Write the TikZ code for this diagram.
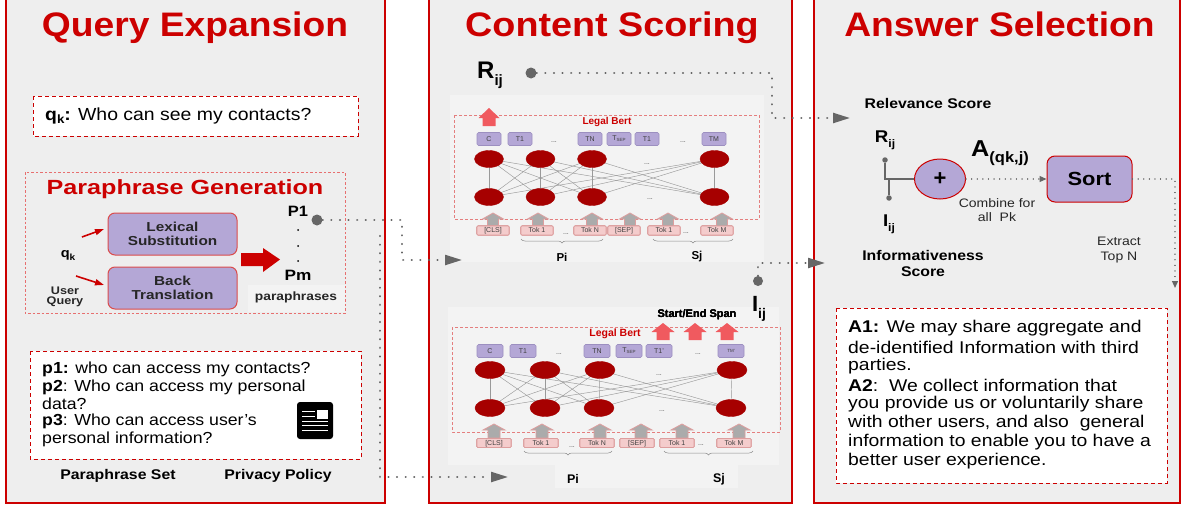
\documentclass[tikz,border=0pt]{standalone}
\usepackage{graphicx}
\usepackage{fontspec}
\setmainfont{Liberation Sans}
\usetikzlibrary{arrows.meta,shapes.geometric,decorations.pathreplacing,calc}
\pgfdeclarelayer{bg}\pgfdeclarelayer{mid}\pgfsetlayers{bg,mid,main}
\definecolor{panelred}{HTML}{CC0000}
\definecolor{panelgray}{HTML}{EEEEEE}
\definecolor{inner}{HTML}{F3F3F3}
\definecolor{lilac}{HTML}{B4A7D6}
\definecolor{lilacb}{HTML}{9C8FC0}
\definecolor{darkred}{HTML}{A60000}
\definecolor{tok}{HTML}{F4CCCC}
\definecolor{tokb}{HTML}{DD9E9E}
\definecolor{coral}{HTML}{F05A5F}
\definecolor{dotc}{HTML}{666666}
\newcommand{\fs}[1]{\fontsize{#1}{#1}\selectfont}
\newcommand{\lowsub}[3]{\raisebox{#1}{\fs{#2}#3}}
\newcommand{\W}[2][1.12]{\scalebox{#1}[1]{#2}}
% up arrow: x, tip y, base y, head half width, shaft half width, head height, style
\newcommand{\uparr}[7]{\path[#7] (#1,#2) -- (#1+#4,#2+#6) -- (#1+#5,#2+#6) -- (#1+#5,#3) -- (#1-#5,#3) -- (#1-#5,#2+#6) -- (#1-#4,#2+#6) -- cycle;}
\tikzset{
  panel/.style={draw=panelred,fill=panelgray,line width=1.2pt},
  dashbox/.style={draw=panelred,fill=white,line width=.9pt,dash pattern=on 4pt off 3pt},
  faint/.style={draw=tokb!80!red,line width=.7pt,dash pattern=on 3pt off 2pt},
  title/.style={text=panelred,font=\bfseries\fs{34},inner sep=0pt,anchor=base},
  lab/.style={inner sep=0pt,text=black},
  tb/.style={draw=lilacb,fill=lilac,rounded corners=1.5pt,line width=.6pt,minimum height=13pt,inner sep=0pt,font=\fs{7},text=black!75},
  tk/.style={draw=tokb,fill=tok,rounded corners=1pt,line width=.6pt,minimum height=9pt,text height=5pt,text depth=1pt,inner sep=0pt,font=\fs{7},text=black!75},
  neuron/.style={ellipse,fill=darkred,draw=darkred,inner sep=0pt},
  garrow/.style={draw=tokb,fill=black!33,line width=.8pt},
  rarrow/.style={fill=coral},
  dotline/.style={draw=dotc,line width=2.2pt,line cap=round,dash pattern=on .1pt off 8.5pt},
  finedot/.style={draw=dotc,line width=1.2pt,line cap=round,dash pattern=on .1pt off 5.5pt},
  bigtip/.style={-{Triangle[length=17pt,width=10pt,color=dotc]}},
  smalltip/.style={-{Triangle[length=7pt,width=6pt,color=dotc]}},
  net/.style={draw=black!40,line width=.45pt},
  brc/.style={draw=black!45,line width=.5pt,decorate,decoration={brace,mirror,amplitude=4pt}},
  pbox/.style={draw=panelred!70!white,fill=lilac,rounded corners=7pt,line width=1pt,align=center,font=\bfseries\fs{13},text=black!85},
  dotn/.style={circle,fill=dotc,inner sep=0pt,minimum size=10pt},
  redtip/.style={draw=panelred,line width=1.6pt,-{Triangle[length=9pt,width=6pt]}}
}
\begin{document}
\begin{tikzpicture}[x=1pt,y=-1pt]
\useasboundingbox (0,0) rectangle (1188,506);
\begin{pgfonlayer}{bg}
\path[panel] (6,-3) rectangle (385,503);
\path[panel] (429,-3) rectangle (792,503);
\path[panel] (814,-3) rectangle (1180,503);
\fill[inner] (450,95) rectangle (764,262);
\fill[inner] (448,307) rectangle (779,465);
\fill[inner] (555,465) rectangle (738,488);
\end{pgfonlayer}
\node[title] (t1) at (195,36) {\W[1.095]{Query Expansion}};
\node[title] (t2) at (612,36) {\W[1.11]{Content Scoring}};
\node[title] (t3) at (999.5,36) {\W[1.095]{Answer Selection}};
% query box
\path[dashbox] (33,96) rectangle (358,136);
\node[lab,anchor=west,font=\fs{17.5}] (qk) at (45,116) {\W[1.11]{\textbf{q\lowsub{-3pt}{12}{k}:} Who can see my contacts?}};
% paraphrase generation
\path[draw=tokb!70!red,line width=.8pt,dash pattern=on 2.5pt off 2pt] (25,172) rectangle (345,313);
\node[lab,text=panelred,font=\bfseries\fs{20.5}] (pg) at (185,189) {\W[1.227]{Paraphrase Generation}};
\node[pbox,minimum width=129pt,minimum height=42pt] (lex) at (172.5,234) {\W[1.18]{Lexical}\\[1pt]\W[1.18]{Substitution}};
\node[pbox,minimum width=129pt,minimum height=42pt] (back) at (172.5,288) {\W[1.18]{Back}\\[1pt]\W[1.18]{Translation}};
\node[lab,font=\bfseries\fs{13}] (qkk) at (68,255) {\W{q\lowsub{-3pt}{9}{k}}};
\node[lab,align=center,font=\bfseries\fs{11},text=black!85] (uq) at (65,297) {\W[1.15]{User}\\[-1pt]\W[1.15]{Query}};
\coordinate (qa) at (82,237); \coordinate (qa2) at (104,229);
\coordinate (qb) at (76,276); \coordinate (qb2) at (104,285);
\draw[redtip] (qa) -- (qa2);
\draw[redtip] (qb) -- (qb2);
\path[fill=panelred] (241,253) -- (263,253) -- (263,248) -- (280,259.5) -- (263,272) -- (263,266) -- (241,266) -- cycle;
\node[lab,font=\bfseries\fs{15}] (p1) at (298,211) {\W[1.1]{P1}};
\foreach \y in {230,246,261} \fill (298,\y) circle (1pt);
\node[lab,font=\bfseries\fs{15}] (pm) at (298,275) {\W[1.15]{Pm}};
\fill[inner] (248,285) rectangle (345,312);
\node[lab,font=\bfseries\fs{12},text=black!85] (para) at (296,297) {\W[1.15]{paraphrases}};
\node[dotn,minimum size=11pt] (dp) at (317,220) {};
% paraphrase set
\path[dashbox] (30,351) rectangle (361,459);
\foreach \y/\t/\n in {369/\textbf{p1:} who can access my contacts?/a,387/\textbf{p2}: Who can access my personal/b,404/data?/c,421/\textbf{p3}: Who can access user’s/d,439/personal information?/e}
  \node[lab,anchor=west,font=\fs{16}] (pl\n) at (42,\y) {\W[1.107]{\t}};
\fill[rounded corners=3pt,black] (297,402) rectangle (333,439);
\fill[white] (317,410) rectangle (328,419);
\foreach \y in {411,416,421,425,430} \draw[white,line width=1pt] (302,\y) -- (\ifnum\y<420 315\else 328\fi,\y);
\node[lab,font=\bfseries\fs{14}] (ps) at (118,476) {\W[1.13]{Paraphrase Set}};
\node[lab,font=\bfseries\fs{14}] (pp) at (278,476) {\W[1.13]{Privacy Policy}};
% === upper bert
\path[faint] (454,115) rectangle (759,219);
\node[lab,text=panelred,font=\bfseries\fs{10}] (lb1) at (607,122) {Legal Bert};
\foreach \x/\t/\n in {489/C/a,520/T1/b,590/TN/c,647/T1/d,714/TM/f}
  \node[tb,minimum width=24pt] (ua\n) at (\x,139) {\t};
\node[tb,minimum width=24pt] (uae) at (619,139) {T\lowsub{-1pt}{4.5}{SEP}};
\foreach \x/\n in {489/a,540.5/b,592/c,714.5/d} {
  \node[neuron,minimum width=29pt,minimum height=17pt] (un\n) at (\x,159) {};
  \node[neuron,minimum width=29pt,minimum height=17pt] (ul\n) at (\x,197) {};
}
\begin{pgfonlayer}{mid}
\foreach \a in {a,b,c,d} \foreach \b in {a,b,c,d} \path[net] (un\a.center) -- (ul\b.center);
\end{pgfonlayer}
\foreach \x in {493,538,592,630,668,722} \uparr{\x}{213}{226}{10.5}{5.5}{6}{garrow}
\foreach \x/\t/\n in {493/[CLS]/a,537/Tok 1/b,590/Tok N/c,624/[SEP]/d,664/Tok 1/e,717/Tok M/f}
  \node[tk,minimum width=32pt] (ut\n) at (\x,230.5) {\t};
\coordinate (ub1) at (521,239); \coordinate (ub2) at (603,239);
\coordinate (ub3) at (653,239); \coordinate (ub4) at (733,239);
\path[brc] (ub1) -- (ub2);
\path[brc] (ub3) -- (ub4);
\foreach \x/\y in {554/144,683/144,647/166,650/201,566/236,686/235}
  \node[lab,font=\fs{7},text=black!70] at (\x,\y-2) {...};
\node[lab,font=\bfseries\fs{11.5}] (upi) at (562,257) {Pi};
\node[lab,font=\bfseries\fs{11.5}] (usj) at (697,257) {Sj};
\uparr{489}{108}{126}{10.5}{6.5}{10}{rarrow}
\node[lab,font=\bfseries\fs{24}] (rij) at (490,75) {R\lowsub{-7pt}{15}{ij}};
\node[dotn,minimum size=11pt] (dr) at (531,73) {};
% === lower bert
\path[faint] (452,327) rectangle (780,432);
\node[lab,text=panelred,font=\bfseries\fs{10.5}] (lb2) at (615,334) {Legal Bert};
\foreach \x/\t/\n in {490/C/a,523/T1/b,597/TN/c,659/T1'/d}
  \node[tb,minimum width=26pt] (la\n) at (\x,351) {\t};
\node[tb,minimum width=26pt] (lae) at (629,351) {T\lowsub{-1pt}{4.5}{SEP}};
\node[tb,minimum width=26pt,font=\fs{4.5}] (laf) at (731,351) {TM'};
\foreach \x/\n in {490/a,545/b,600/c,732/d}
  \node[neuron,minimum width=30pt,minimum height=17pt] (vn\n) at (\x,370) {};
\foreach \x/\n in {490/a,545/b,599/c,731/d}
  \node[neuron,minimum width=30pt,minimum height=17pt] (vl\n) at (\x,408) {};
\begin{pgfonlayer}{mid}
\foreach \a in {a,b,c,d} \foreach \b in {a,b,c,d} \path[net] (vn\a.center) -- (vl\b.center);
\end{pgfonlayer}
\foreach \x in {494,542,600,641,682,739} \uparr{\x}{424}{438}{11}{6}{6}{garrow}
\foreach \x/\t/\n in {494/[CLS]/a,541/Tok 1/b,597/Tok N/c,637/[SEP]/d,677/Tok 1/e,734/Tok M/f}
  \node[tk,minimum width=34pt] (vt\n) at (\x,443) {\t};
\coordinate (vb1) at (524,451); \coordinate (vb2) at (612,451);
\coordinate (vb3) at (664,451); \coordinate (vb4) at (753,451);
\path[brc] (vb1) -- (vb2);
\path[brc] (vb3) -- (vb4);
\foreach \x/\y in {559/356,698/356,659/377,662/413,572/449,701/447}
  \node[lab,font=\fs{7},text=black!70] at (\x,\y-2) {...};
\node[lab,font=\bfseries\fs{12.5}] (vpi) at (573,479) {Pi};
\node[lab,font=\bfseries\fs{12.5}] (vsj) at (719,479) {Sj};
\foreach \x in {663,695,727} \uparr{\x}{323}{340}{11.5}{6.5}{9}{rarrow}
\node[lab,font=\bfseries\fs{11}] (sesp) at (697,315) {Start/End Span};
\node[lab,font=\bfseries\fs{22}] (iij) at (759,309) {I\lowsub{-7pt}{14}{ij}};
\node[dotn,minimum size=10pt] (di) at (758,281) {};
% === connectors
\coordinate (e1a) at (402,220); \coordinate (e1b) at (402,260);
\coordinate (e1) at (462,260);
\draw[dotline,bigtip] (dp) -- (e1a) -- (e1b) -- (e1);
\coordinate (s2) at (380,236); \coordinate (s2b) at (380,477); \coordinate (e2) at (508,477);
\draw[dotline,bigtip] (s2) -- (s2b) -- (e2);
\coordinate (e3a) at (772,73); \coordinate (e3b) at (772,118); \coordinate (e3) at (850,118);
\draw[dotline,bigtip] (dr) -- (e3a) -- (e3b) -- (e3);
\coordinate (e4a) at (758,263); \coordinate (e4) at (825,263);
\draw[dotline,bigtip] (di) -- (e4a) -- (e4);
% === answer selection
\node[lab,font=\bfseries\fs{14}] (rs) at (928,103) {\W[1.13]{Relevance Score}};
\node[lab,font=\bfseries\fs{17}] (rr) at (885,140) {\W[1.1]{R\lowsub{-5pt}{11}{ij}}};
\node[lab,font=\bfseries\fs{17}] (ii) at (889,224) {\W[1.1]{I\lowsub{-5pt}{11}{ij}}};
\node[ellipse,draw=panelred,fill=lilac,line width=1pt,minimum width=51pt,minimum height=40pt,inner sep=0pt,font=\bfseries\fs{22}] (plus) at (940,179) {+};
\node[circle,fill=dotc,inner sep=0pt,minimum size=5.5pt] (dr2) at (885,160) {};
\node[circle,fill=dotc,inner sep=0pt,minimum size=5.5pt] (di2) at (889,198) {};
\coordinate (j1) at (885,179); \coordinate (j2) at (889,179);
\begin{pgfonlayer}{mid}
\draw[dotc,line width=1.3pt] (dr2) -- (j1) -- (plus);
\draw[dotc,line width=1.3pt] (di2) -- (j2);
\end{pgfonlayer}
\node[lab,anchor=west,font=\bfseries\fs{23}] (aq) at (971,153) {\W[1.1]{A\lowsub{-6pt}{15}{(qk,j)}}};
\node[draw=panelred,fill=lilac,rounded corners=8pt,line width=1pt,minimum width=85pt,minimum height=46pt,inner sep=0pt,font=\bfseries\fs{19}] (sort) at (1089.5,179) {\W[1.15]{Sort}};
\coordinate (f1) at (1175,179); \coordinate (f2) at (1175,288);
\draw[finedot,smalltip] (plus) -- (sort);
\draw[finedot,smalltip] (sort) -- (f1) -- (f2);
\node[lab,align=center,font=\fs{12.3},text=black!85] (cb) at (997,210) {\W[1.14]{Combine for}\\[2pt]\W[1.14]{all\ \ Pk}};
\node[lab,align=center,font=\fs{12.3},text=black!85] (ex) at (1119,250) {\W[1.14]{Extract}\\[2pt]\W[1.14]{Top N}};
\node[lab,align=center,font=\bfseries\fs{14}] (inf) at (923,263) {\W[1.13]{Informativeness}\\[2pt]\W[1.13]{Score}};
\path[dashbox] (836,308) rectangle (1167,483);
\foreach \y/\t/\n in {328/\textbf{A1:} We may share aggregate and/a,347/de-identified Information with third/b,366/parties./c,385/\textbf{A2}:\ \ We collect information that/d,404/you provide us or voluntarily share/e,423/{with other users, and also\ \ general}/f,442/information to enable you to have a/g,461/better user experience./h}
  \node[lab,anchor=west,font=\fs{17}] (al\n) at (848,\y) {\W[1.14]{\t}};
\end{tikzpicture}
\end{document}
